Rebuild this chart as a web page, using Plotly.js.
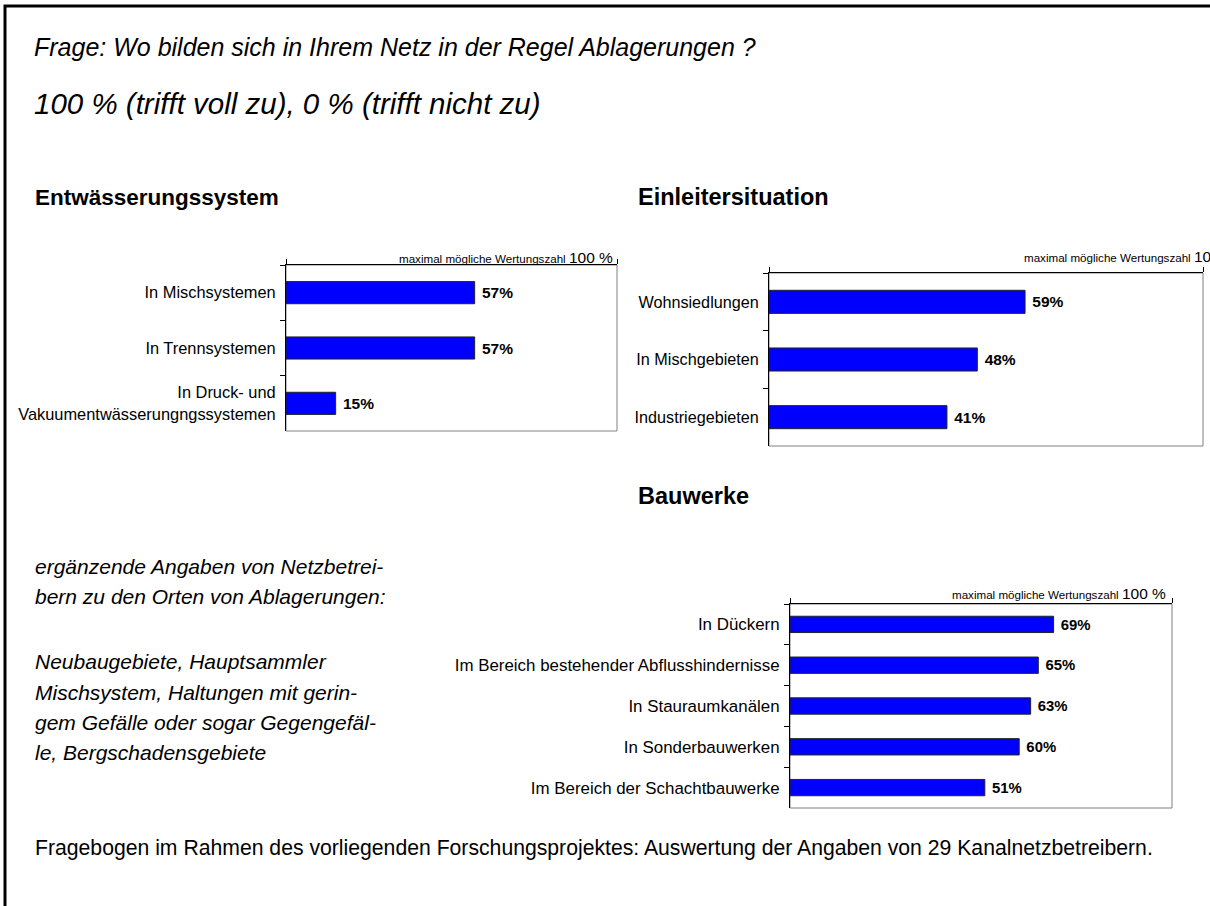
<!DOCTYPE html>
<html>
<head>
<meta charset="utf-8">
<script src="https://cdn.plot.ly/plotly-3.0.1.min.js"></script>
<style>
html,body{margin:0;padding:0;background:#fff;}
#chart{width:1210px;height:906px;}
</style>
</head>
<body>
<div id="chart"></div>
<script>
// ---- data ----
const catEntw = ['In Mischsystemen', 'In Trennsystemen', 'In Druck- und<br>Vakuumentwässerungngssystemen'];
const valEntw = [57, 57, 15];
const catEinl = ['Wohnsiedlungen', 'In Mischgebieten', 'Industriegebieten'];
const valEinl = [59, 48, 41];
const catBau = ['In Dückern', 'Im Bereich bestehender Abflusshindernisse', 'In Stauraumkanälen', 'In Sonderbauwerken', 'Im Bereich der Schachtbauwerke'];
const valBau = [69, 65, 63, 60, 51];
const maxLabel = 'maximal mögliche Wertungszahl';
const maxValue = '100 %';

// ---- layout helpers ----
const W = 1210, H = 906;
const px = x => x / W;
const py = y => 1 - y / H;
const FONT = 'Liberation Sans, Arial, sans-serif';

function barTrace(cats, vals, xa, ya) {
  return {
    type: 'bar', orientation: 'h', y: cats, x: vals, xaxis: xa, yaxis: ya,
    width: 0.4,
    marker: {color: '#0000ff', line: {color: '#222', width: 1}},
    texttemplate: '\u00a0<b>%{x}%</b>', textposition: 'outside',
    textfont: {family: FONT, size: 15.5, color: '#000'},
    cliponaxis: false, hoverinfo: 'skip', showlegend: false
  };
}
function xAx(x0, x1, anchor) {
  return {domain: [px(x0), px(x1)], anchor: anchor, range: [0, 100], side: 'top',
    showline: true, linecolor: '#000', linewidth: 1, ticks: 'outside', tickvals: [0, 100],
    ticklen: 5, tickcolor: '#000', showticklabels: false, showgrid: false, zeroline: false, fixedrange: true};
}
function yAx(y0, y1, anchor, fs) {
  return {domain: [py(y1), py(y0)], anchor: anchor, type: 'category', autorange: 'reversed',
    showline: true, linecolor: '#000', linewidth: 1, ticks: 'outside', tickson: 'boundaries',
    ticklen: 5, tickcolor: '#000', ticklabelstandoff: 6,
    tickfont: {family: FONT, size: fs, color: '#000'}, showgrid: false, zeroline: false, fixedrange: true};
}

const data = [
  barTrace(catEntw, valEntw, 'x', 'y'),
  barTrace(catEinl, valEinl, 'x2', 'y2'),
  barTrace(catBau, valBau, 'x3', 'y3')
];

function frameRect(xr, yr) {
  return {type: 'rect', xref: xr + ' domain', yref: yr + ' domain', x0: 0, x1: 1, y0: 0, y1: 1,
    line: {color: '#808080', width: 1}, layer: 'below'};
}
function maxAnn(xRight, yMid) {
  return {xref: 'paper', yref: 'paper', x: px(xRight), y: py(yMid), xanchor: 'right', yanchor: 'middle',
    showarrow: false, text: maxLabel + ' <span style="font-size:15.5px">' + maxValue + '</span>',
    font: {family: FONT, size: 11.6, color: '#000'}};
}
function txt(t, x, y, size, opts) {
  return Object.assign({xref: 'paper', yref: 'paper', x: px(x), y: py(y), xanchor: 'left', yanchor: 'middle',
    showarrow: false, align: 'left', text: t, font: {family: FONT, size: size, color: '#000'}}, opts || {});
}

const annotations = [
  txt('<i>Frage: Wo bilden sich in Ihrem Netz in der Regel Ablagerungen ?</i>', 32, 47, 25),
  txt('<i>100 % (trifft voll zu), 0 % (trifft nicht zu)</i>', 32, 103, 29.5),
  txt('<b>Entwässerungssystem</b>', 33, 197, 22.5),
  txt('<b>Einleitersituation</b>', 636, 197, 23.5),
  txt('<b>Bauwerke</b>', 636, 496, 23.5),
  txt('<i>ergänzende Angaben von Netzbetrei-</i>', 33, 566, 21),
  txt('<i>bern zu den Orten von Ablagerungen:</i>', 33, 596, 21),
  txt('<i>Neubaugebiete, Hauptsammler</i>', 33, 661, 21),
  txt('<i>Mischsystem, Haltungen mit gerin-</i>', 33, 692, 21),
  txt('<i>gem Gefälle oder sogar Gegengefäl-</i>', 33, 722, 21),
  txt('<i>le, Bergschadensgebiete</i>', 33, 752, 21),
  txt('Fragebogen im Rahmen des vorliegenden Forschungsprojektes: Auswertung der Angaben von 29 Kanalnetzbetreibern.', 33, 848, 21.2),
  maxAnn(615, 257),
  maxAnn(1240, 256),
  maxAnn(1168, 593)
];

const layout = {
  width: W, height: H, margin: {l: 0, r: 0, t: 0, b: 0},
  paper_bgcolor: '#fff', plot_bgcolor: 'rgba(0,0,0,0)',
  font: {family: FONT, color: '#000'},
  showlegend: false,
  xaxis: xAx(286, 617, 'y'),
  yaxis: yAx(265, 431, 'x', 16.4),
  xaxis2: xAx(769, 1203, 'y2'),
  yaxis2: yAx(273, 446, 'x2', 16.2),
  xaxis3: xAx(790, 1172, 'y3'),
  yaxis3: yAx(604, 808, 'x3', 16.9),
  shapes: [
    frameRect('x', 'y'), frameRect('x2', 'y2'), frameRect('x3', 'y3'),
    {type: 'path', xref: 'paper', yref: 'paper', path: 'M ' + px(5) + ' ' + py(906) + ' L ' + px(5) + ' ' + py(6) + ' L 1 ' + py(6),
     line: {color: '#000', width: 3}}
  ],
  annotations: annotations
};

Plotly.newPlot('chart', data, layout, {displayModeBar: false, staticPlot: true});
</script>
</body>
</html>
